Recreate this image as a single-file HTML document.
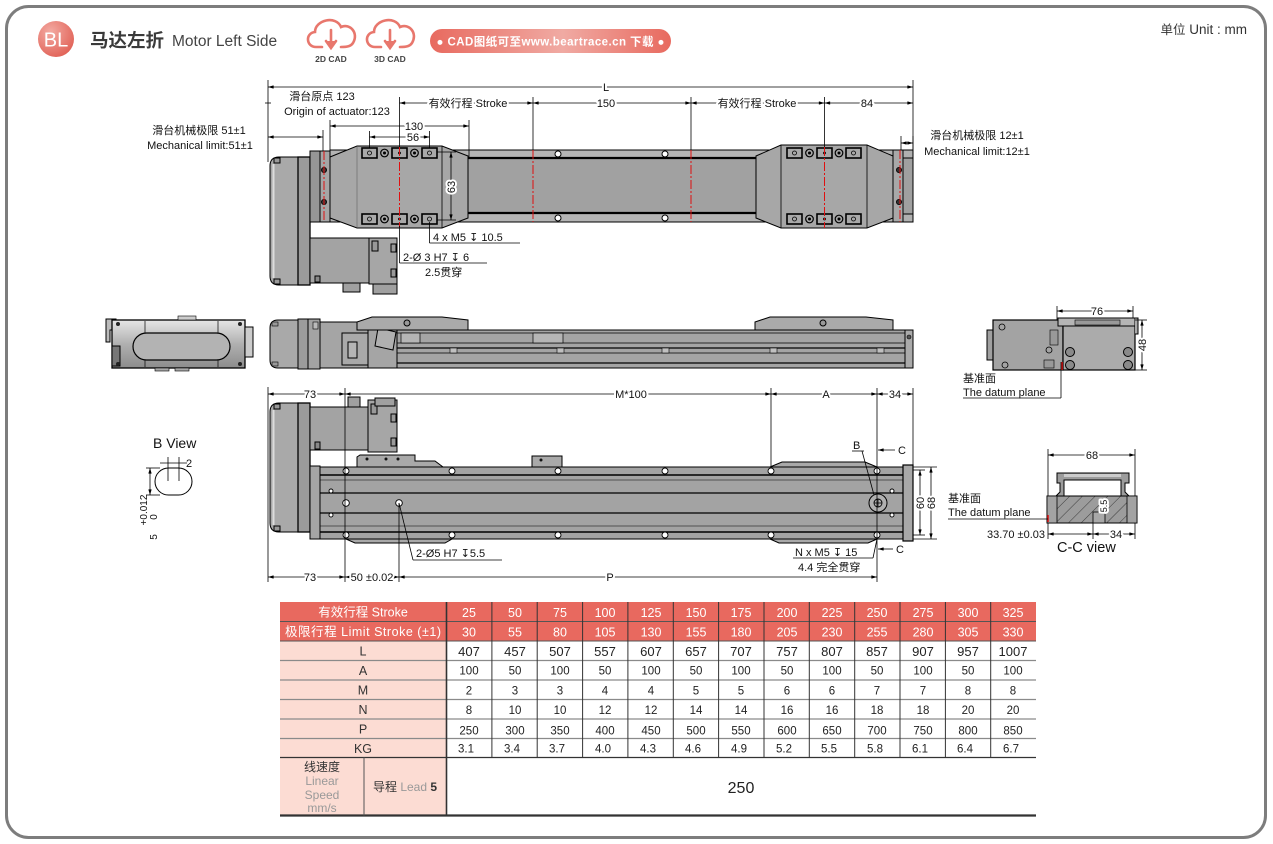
<!DOCTYPE html>
<html><head><meta charset="utf-8">
<style>
html,body{margin:0;padding:0;background:#fff;}
svg{display:block;}
text{font-family:"Liberation Sans","Noto Sans CJK SC",sans-serif;}
.t{font-size:11px;fill:#111;}
.h{stroke:#fff;stroke-width:4px;paint-order:stroke;stroke-linejoin:round;}
.d{stroke:#000;stroke-width:0.8;fill:none;}
.dm{marker-start:url(#ar);marker-end:url(#ar);}
.me{marker-end:url(#ar);}
.rd{stroke:#e01010;stroke-width:1;stroke-dasharray:9,2,2,2;fill:none;}
.hd{font-size:12.5px;fill:#fff;text-anchor:middle;}
.tv{font-size:13px;fill:#222;text-anchor:middle;}
.ts{font-size:11.5px;fill:#222;text-anchor:middle;}
.tk{font-size:11.5px;fill:#222;}
.tl{font-size:12.5px;fill:#333;text-anchor:middle;}
</style></head><body>
<svg width="1273" height="844" viewBox="0 0 1273 844" xmlns="http://www.w3.org/2000/svg">
<defs>
<marker id="ar" viewBox="0 0 10 6" refX="10" refY="3" markerWidth="6" markerHeight="3.4" orient="auto-start-reverse" markerUnits="userSpaceOnUse"><path d="M0,0 L10,3 L0,6z" fill="#000"/></marker>
<radialGradient id="gbl" cx="0.35" cy="0.3" r="0.8"><stop offset="0" stop-color="#f3aaa2"/><stop offset="1" stop-color="#e05e53"/></radialGradient>
<linearGradient id="gpill" x1="0" x2="1" y1="0" y2="0"><stop offset="0" stop-color="#e86a5f"/><stop offset="0.55" stop-color="#f0aaa3"/><stop offset="1" stop-color="#e86a5f"/></linearGradient>
<linearGradient id="gend" x1="0" x2="0" y1="0" y2="1"><stop offset="0" stop-color="#e6e6e6"/><stop offset="0.5" stop-color="#b0b0b0"/><stop offset="1" stop-color="#8c8c8c"/></linearGradient>
<pattern id="hatch" width="9" height="9" patternUnits="userSpaceOnUse" patternTransform="rotate(45)"><rect width="9" height="9" fill="#9c9c9c"/><line x1="0" y1="0" x2="0" y2="9" stroke="#222" stroke-width="0.8"/></pattern>
</defs>

<!-- outer frame -->
<rect x="6.5" y="6.5" width="1259" height="831" rx="22" fill="#fff" stroke="#7d7d7d" stroke-width="3"/>

<!-- ===== HEADER ===== -->
<circle cx="56" cy="39" r="18" fill="url(#gbl)"/>
<text x="56" y="46.5" font-size="20" fill="#fff" text-anchor="middle">BL</text>
<text x="90" y="47" font-size="18.5" font-weight="bold" fill="#3a3a3a">马达左折</text>
<text x="172" y="46" font-size="15.5" fill="#444">Motor Left Side</text>

<g fill="none" stroke="#e8776d" stroke-width="2.6" stroke-linecap="round">
 <path d="M322,47 H316 C306,47 305,33 315,32 C315,20 336,15 341,27 C350,23 359,33 353,43 C351,46 348,47 341,47"/>
 <path d="M331,30 V46"/><path d="M326,41 L331,48 L336,41" fill="#e8776d"/>
 <path d="M381,47 H375 C365,47 364,33 374,32 C374,20 395,15 400,27 C409,23 418,33 412,43 C410,46 407,47 400,47"/>
 <path d="M390,30 V46"/><path d="M385,41 L390,48 L395,41" fill="#e8776d"/>
</g>
<text x="331" y="62" font-size="8.5" font-weight="bold" fill="#444" text-anchor="middle">2D CAD</text>
<text x="390" y="62" font-size="8.5" font-weight="bold" fill="#444" text-anchor="middle">3D CAD</text>

<rect x="430" y="29" width="241" height="24" rx="12" fill="url(#gpill)"/>
<text x="550.5" y="45.5" font-size="11.5" font-weight="bold" fill="#fff" text-anchor="middle" textLength="228">● CAD图纸可至www.beartrace.cn 下载 ●</text>

<text x="1247" y="34" font-size="13.5" fill="#333" text-anchor="end"><tspan font-size="12.5">单位</tspan> Unit : mm</text>

<!-- ===== TOP VIEW ===== -->
<g stroke="#000" stroke-width="1">
 <path d="M279,157 H298 V285 H279 Q270,285 270,276 V166 Q270,157 279,157Z" fill="#a9a9a9"/>
 <path d="M273.5,164 V278" stroke="#dcdcdc" stroke-width="2"/>
 <rect x="274" y="158" width="6" height="5" fill="#999"/>
 <rect x="274" y="279" width="6" height="5" fill="#999"/>
 <rect x="298" y="157" width="12" height="128" fill="#9b9b9b" stroke-width="1.3"/>
 <rect x="310" y="238" width="59" height="45" fill="#a3a3a3"/>
 <rect x="315" y="276" width="5" height="6" fill="#888"/>
 <rect x="369" y="238" width="28" height="46" fill="#a6a6a6"/>
 <rect x="372" y="241" width="6" height="10" fill="#999"/>
 <rect x="391" y="244" width="5" height="8" fill="#999"/>
 <rect x="391" y="269" width="5" height="8" fill="#999"/>
 <rect x="343" y="283" width="17" height="9" fill="#a0a0a0"/>
 <rect x="373" y="284" width="24" height="10" fill="#a0a0a0"/>
 <rect x="310" y="151" width="10" height="71" fill="#969696"/>
 <rect x="320" y="151" width="10" height="71" fill="#a5a5a5"/>
 <rect x="330" y="150" width="565" height="72" fill="#a1a1a1"/>
 <rect x="330" y="150" width="565" height="8" fill="#b4b4b4"/>
 <rect x="330" y="213" width="565" height="9" fill="#b4b4b4"/>
 <line x1="330" y1="158" x2="895" y2="158" stroke-width="2.2"/>
 <line x1="330" y1="213" x2="895" y2="213" stroke-width="2.2"/>
 <rect x="893" y="150" width="10" height="72" fill="#a8a8a8"/>
 <rect x="903" y="150" width="10" height="72" fill="#a0a0a0"/>
 <rect x="903" y="150" width="10" height="8" fill="#b0b0b0"/>
 <rect x="903" y="214" width="10" height="8" fill="#b0b0b0"/>
</g>
<g fill="#fff" stroke="#000" stroke-width="1">
 <circle cx="558" cy="154" r="3"/><circle cx="665" cy="154" r="3"/>
 <circle cx="558" cy="218" r="3"/><circle cx="665" cy="218" r="3"/>
</g>
<g fill="#333" stroke="#000" stroke-width="0.8">
 <circle cx="324" cy="170" r="2.6"/><circle cx="324" cy="202" r="2.6"/>
 <circle cx="899" cy="170" r="2.6"/><circle cx="899" cy="202" r="2.6"/>
</g>

<polygon points="357,146 442,146 468,156 468,218 442,228 357,228 330,218 330,157" fill="#a7a7a7" stroke="#000" stroke-width="1"/>
<line x1="442" y1="146" x2="442" y2="228" stroke="#000" stroke-width="0.8"/>
<line x1="357" y1="146" x2="357" y2="228" stroke="#555" stroke-width="0.5"/>
<polygon points="781,145 867,145 893,156 893,218 867,228 781,228 756,218 756,156" fill="#a7a7a7" stroke="#000" stroke-width="1"/>
<line x1="781" y1="145" x2="781" y2="228" stroke="#000" stroke-width="0.8"/>
<line x1="867" y1="145" x2="867" y2="228" stroke="#000" stroke-width="0.8"/>

<g fill="#a9a9a9" stroke="#000" stroke-width="1.6">
 <rect x="362" y="148" width="15" height="10"/><rect x="392" y="148" width="15" height="10"/><rect x="422" y="148" width="15" height="10"/>
 <rect x="362" y="214" width="15" height="10"/><rect x="392" y="214" width="15" height="10"/><rect x="422" y="214" width="15" height="10"/>
 <rect x="787" y="148" width="15" height="10"/><rect x="817" y="148" width="15" height="10"/><rect x="846" y="148" width="15" height="10"/>
 <rect x="787" y="214" width="15" height="10"/><rect x="817" y="214" width="15" height="10"/><rect x="846" y="214" width="15" height="10"/>
</g>
<g fill="none" stroke="#000" stroke-width="0.8">
 <circle cx="369.5" cy="153" r="2"/><circle cx="429.5" cy="153" r="2"/><circle cx="369.5" cy="219" r="2"/><circle cx="429.5" cy="219" r="2"/>
 <circle cx="794.5" cy="153" r="2"/><circle cx="853.5" cy="153" r="2"/><circle cx="794.5" cy="219" r="2"/><circle cx="853.5" cy="219" r="2"/>
 <circle cx="384.5" cy="153" r="3.8" stroke-width="1.2"/><circle cx="414.5" cy="153" r="3.8" stroke-width="1.2"/>
 <circle cx="384.5" cy="219" r="3.8" stroke-width="1.2"/><circle cx="414.5" cy="219" r="3.8" stroke-width="1.2"/>
 <circle cx="809.5" cy="153" r="3.8" stroke-width="1.2"/><circle cx="839" cy="153" r="3.8" stroke-width="1.2"/>
 <circle cx="809.5" cy="219" r="3.8" stroke-width="1.2"/><circle cx="839" cy="219" r="3.8" stroke-width="1.2"/>
</g>
<g fill="#000"><circle cx="399.5" cy="153" r="1.4"/><circle cx="399.5" cy="219" r="1.4"/><circle cx="824.5" cy="153" r="1.4"/><circle cx="824.5" cy="219" r="1.4"/>
<circle cx="384.5" cy="153" r="1.5"/><circle cx="414.5" cy="153" r="1.5"/><circle cx="384.5" cy="219" r="1.5"/><circle cx="414.5" cy="219" r="1.5"/>
<circle cx="809.5" cy="153" r="1.5"/><circle cx="839" cy="153" r="1.5"/><circle cx="809.5" cy="219" r="1.5"/><circle cx="839" cy="219" r="1.5"/></g>

<line class="rd" x1="533" y1="150" x2="533" y2="222"/>
<line class="rd" x1="691" y1="150" x2="691" y2="222"/>
<line class="rd" x1="399.5" y1="147" x2="399.5" y2="228"/>
<line class="rd" x1="824.5" y1="147" x2="824.5" y2="228"/>
<line class="rd" x1="324" y1="151" x2="324" y2="222"/>
<line class="rd" x1="900" y1="150" x2="900" y2="222"/>

<line class="d" x1="268" y1="80" x2="268" y2="162"/>
<line class="d" x1="913" y1="80" x2="913" y2="150"/>
<line class="d dm" x1="268" y1="87" x2="913" y2="87"/>
<text class="t h" x="606" y="91" text-anchor="middle">L</text>

<line class="d" x1="399.5" y1="97" x2="399.5" y2="147"/>
<line class="d" x1="533" y1="97" x2="533" y2="150"/>
<line class="d" x1="691" y1="97" x2="691" y2="150"/>
<line class="d" x1="824.5" y1="97" x2="824.5" y2="147"/>
<line class="d dm" x1="399.5" y1="103" x2="533" y2="103"/>
<line class="d dm" x1="533" y1="103" x2="691" y2="103"/>
<line class="d dm" x1="691" y1="103" x2="824.5" y2="103"/>
<line class="d dm" x1="824.5" y1="103" x2="913" y2="103"/>
<text class="t h" x="468" y="107" text-anchor="middle">有效行程 Stroke</text>
<text class="t h" x="606" y="107" text-anchor="middle">150</text>
<text class="t h" x="757" y="107" text-anchor="middle">有效行程 Stroke</text>
<text class="t h" x="867" y="107" text-anchor="middle">84</text>
<line class="d" x1="265" y1="103" x2="271" y2="103"/>

<text class="t" x="322" y="100" text-anchor="middle">滑台原点 123</text>
<text class="t" x="337" y="115" text-anchor="middle">Origin of actuator:123</text>

<text class="t" x="199" y="134" text-anchor="middle">滑台机械极限 51±1</text>
<text class="t" x="200" y="149" text-anchor="middle">Mechanical limit:51±1</text>
<line class="d" x1="323" y1="130" x2="323" y2="151"/>
<line class="d dm" x1="268" y1="137" x2="323" y2="137"/>

<line class="d" x1="330" y1="120" x2="330" y2="157"/>
<line class="d" x1="469" y1="120" x2="469" y2="157"/>
<line class="d dm" x1="330" y1="126" x2="469" y2="126"/>
<text class="t h" x="414" y="130" text-anchor="middle">130</text>
<line class="d" x1="369.5" y1="131" x2="369.5" y2="148"/>
<line class="d" x1="429.5" y1="131" x2="429.5" y2="148"/>
<line class="d dm" x1="369.5" y1="137" x2="429.5" y2="137"/>
<text class="t h" x="413" y="141" text-anchor="middle">56</text>

<line class="d" x1="437" y1="152" x2="456" y2="152"/>
<line class="d" x1="437" y1="220" x2="456" y2="220"/>
<line class="d dm" x1="451" y1="152" x2="451" y2="220"/>
<text class="t h" transform="translate(455,187) rotate(-90)" text-anchor="middle">63</text>

<line class="d" x1="429.5" y1="222" x2="429.5" y2="243"/>
<line class="d" x1="429.5" y1="243" x2="520" y2="243"/>
<text class="t" x="433" y="241">4 x  M5 ↧ 10.5</text>
<line class="d" x1="399.5" y1="226" x2="399.5" y2="263"/>
<line class="d" x1="399.5" y1="263" x2="487" y2="263"/>
<text class="t" x="403" y="261">2-Ø 3 H7 ↧ 6</text>
<text class="t" x="425" y="276">2.5贯穿</text>

<line class="d" x1="901" y1="136" x2="901" y2="150"/>
<line class="d" x1="913" y1="136" x2="913" y2="150"/>
<line class="d dm" x1="901" y1="143" x2="913" y2="143"/>
<text class="t" x="977" y="139" text-anchor="middle">滑台机械极限 12±1</text>
<text class="t" x="977" y="155" text-anchor="middle">Mechanical limit:12±1</text>

<!-- ===== MIDDLE: LEFT END VIEW ===== -->
<g stroke="#000" stroke-width="1">
 <path d="M106,319 H116 V330 H110 V342 H106Z" fill="#bbb"/>
 <rect x="112" y="320" width="133" height="48" fill="url(#gend)" stroke-width="1.3"/>
 <rect x="112" y="346" width="8" height="20" fill="#777"/>
 <line x1="145" y1="321" x2="145" y2="367" stroke-width="0.7"/>
 <line x1="218" y1="321" x2="218" y2="367" stroke-width="0.7"/>
 <rect x="133" y="333" width="97" height="27" rx="13.5" fill="#b3b3b3" stroke-width="1.2"/>
 <rect x="245" y="327" width="8" height="30" fill="#ccc"/>
 <rect x="178" y="316" width="18" height="4" fill="#ccc" stroke-width="0.6"/>
 <rect x="155" y="368" width="14" height="3" fill="#aaa" stroke-width="0.6"/>
 <rect x="175" y="368" width="14" height="3" fill="#aaa" stroke-width="0.6"/>
</g>
<g fill="#222"><circle cx="118" cy="324" r="2"/><circle cx="240" cy="324" r="2"/><circle cx="118" cy="364" r="2"/><circle cx="240" cy="364" r="2"/></g>

<!-- ===== MIDDLE: SIDE VIEW ===== -->
<g stroke="#000" stroke-width="1">
 <path d="M278,320 H298 V368 H278 Q270,368 270,360 V328 Q270,320 278,320Z" fill="#a9a9a9"/>
 <rect x="272" y="322" width="6" height="4" fill="#999" stroke-width="0.6"/>
 <rect x="272" y="362" width="6" height="4" fill="#999" stroke-width="0.6"/>
 <rect x="298" y="319" width="10" height="50" fill="#9c9c9c"/>
 <rect x="308" y="319" width="12" height="50" fill="#a3a3a3"/>
 <rect x="313" y="322" width="5" height="7" fill="#bbb" stroke-width="0.6"/>
 <rect x="320" y="322" width="48" height="46" fill="#a5a5a5"/>
 <rect x="342" y="333" width="26" height="32" fill="#a9a9a9"/>
 <rect x="348" y="342" width="9" height="16" fill="#b5b5b5"/>
 <rect x="368" y="322" width="29" height="46" fill="#a5a5a5"/>
 <polygon points="378,328 396,332 393,350 375,346" fill="#b0b0b0"/>
 <rect x="397" y="330" width="508" height="38" fill="#a4a4a4"/>
 <rect x="905" y="330" width="8" height="38" fill="#aaa"/>
 <line x1="397" y1="333" x2="905" y2="333" stroke-width="0.7"/>
 <line x1="397" y1="343" x2="905" y2="343" stroke-width="0.7"/>
 <line x1="397" y1="348" x2="905" y2="348" stroke-width="1.2"/>
 <line x1="397" y1="353" x2="905" y2="353" stroke-width="0.7"/>
 <line x1="397" y1="363" x2="905" y2="363" stroke-width="1.2"/>
 <polygon points="357,322 372,317 442,317 468,320 468,330 357,330" fill="#aaa"/>
 <polygon points="755,322 770,317 866,317 893,320 893,330 755,330" fill="#aaa"/>
 <rect x="401" y="333" width="19" height="10" fill="#b5b5b5" stroke-width="0.7"/>
 <rect x="533" y="333" width="30" height="10" fill="#b5b5b5" stroke-width="0.7"/>
</g>
<g fill="#c0c0c0" stroke="#000" stroke-width="0.6">
 <rect x="450" y="348" width="7" height="5"/><rect x="557" y="348" width="7" height="5"/><rect x="662" y="348" width="7" height="5"/><rect x="770" y="348" width="7" height="5"/><rect x="877" y="348" width="7" height="5"/>
</g>
<circle cx="407" cy="323" r="3" fill="#999" stroke="#000"/>
<circle cx="823" cy="323" r="3" fill="#999" stroke="#000"/>
<circle cx="909" cy="337" r="2" fill="#555" stroke="#000" stroke-width="0.6"/>

<!-- ===== MIDDLE: RIGHT END VIEW ===== -->
<g stroke="#000" stroke-width="1">
 <rect x="987" y="330" width="8" height="30" fill="#a0a0a0"/>
 <rect x="993" y="320" width="70" height="50" fill="#a3a3a3" stroke-width="1.2"/>
 <rect x="1063" y="325" width="72" height="45" fill="#ababab" stroke-width="1.2"/>
 <rect x="1058" y="318" width="77" height="8" fill="#b5b5b5"/>
 <rect x="1075" y="320" width="45" height="5" fill="#999" stroke-width="0.6"/>
 <path d="M1135,318 L1138,318 L1138,334 L1135,334" fill="#aaa"/>
 <rect x="1050" y="330" width="8" height="15" fill="#999" stroke-width="0.6"/>
 <rect x="1044" y="360" width="10" height="8" fill="#999" stroke-width="0.6"/>
</g>
<g fill="#8a8a8a" stroke="#000" stroke-width="1">
 <circle cx="1070" cy="352" r="4.5"/><circle cx="1070" cy="365" r="4.5"/><circle cx="1128" cy="352" r="4.5"/><circle cx="1128" cy="365" r="4.5"/>
</g>
<g fill="none" stroke="#000" stroke-width="0.8">
 <circle cx="1002" cy="327" r="3"/><circle cx="1049" cy="350" r="3"/><circle cx="1005" cy="365" r="3"/>
</g>
<line x1="1062" y1="362" x2="1062" y2="370" stroke="#e01010" stroke-width="1.5"/>
<line class="d" x1="1057" y1="306" x2="1057" y2="320"/>
<line class="d" x1="1133" y1="306" x2="1133" y2="318"/>
<line class="d dm" x1="1057" y1="311" x2="1133" y2="311"/>
<text class="t h" x="1097" y="315" text-anchor="middle">76</text>
<line class="d" x1="1135" y1="320" x2="1147" y2="320"/>
<line class="d" x1="1135" y1="370" x2="1147" y2="370"/>
<line class="d dm" x1="1142" y1="320" x2="1142" y2="370"/>
<text class="t h" transform="translate(1146,345) rotate(-90)" text-anchor="middle">48</text>
<line class="d" x1="1061" y1="362" x2="1061" y2="398"/>
<line class="d" x1="963" y1="398" x2="1061" y2="398"/>
<text class="t" x="963" y="382">基准面</text>
<text class="t" x="963" y="396">The datum plane</text>

<!-- ===== BOTTOM VIEW ===== -->
<g stroke="#000" stroke-width="1">
 <path d="M279,403 H298 V532 H279 Q270,532 270,523 V412 Q270,403 279,403Z" fill="#a9a9a9"/>
 <path d="M273.5,410 V525" stroke="#dcdcdc" stroke-width="2"/>
 <rect x="274" y="404" width="6" height="5" fill="#999"/>
 <rect x="274" y="526" width="6" height="5" fill="#999"/>
 <rect x="298" y="403" width="12" height="129" fill="#9b9b9b" stroke-width="1.3"/>
 <rect x="310" y="407" width="60" height="43" fill="#a3a3a3"/>
 <rect x="315" y="442" width="5" height="7" fill="#888"/>
 <rect x="368" y="400" width="29" height="52" fill="#a6a6a6"/>
 <rect x="371" y="404" width="6" height="10" fill="#999"/>
 <rect x="391" y="414" width="5" height="8" fill="#999"/>
 <rect x="391" y="438" width="5" height="8" fill="#999"/>
 <rect x="348" y="397" width="12" height="10" fill="#a0a0a0"/>
 <rect x="375" y="398" width="20" height="8" fill="#a0a0a0"/>
 <rect x="310" y="466" width="10" height="73" fill="#a5a5a5"/>
 <rect x="320" y="467" width="583" height="72" fill="#a3a3a3"/>
 <rect x="903" y="465" width="10" height="76" fill="#a8a8a8" stroke-width="1.2"/>
 <line x1="320" y1="475" x2="903" y2="475" stroke-width="1.5"/>
 <line x1="320" y1="480" x2="903" y2="480" stroke-width="0.6"/>
 <line x1="320" y1="493" x2="903" y2="493" stroke-width="1.2"/>
 <line x1="320" y1="513" x2="903" y2="513" stroke-width="1.2"/>
 <line x1="320" y1="526" x2="903" y2="526" stroke-width="0.6"/>
 <line x1="320" y1="532" x2="903" y2="532" stroke-width="1.5"/>
 <polygon points="357,467 357,457 360,455 415,455 415,461 435,461 443,467" fill="#a9a9a9"/>
 <polygon points="532,467 532,456 562,456 562,467" fill="#a9a9a9"/>
 <polygon points="770,467 782,462 865,462 877,467" fill="#a9a9a9"/>
 <polygon points="346,539 355,543 445,543 452,539" fill="#a9a9a9"/>
 <polygon points="770,539 779,543 868,543 877,539" fill="#a9a9a9"/>
</g>
<g fill="#111">
 <circle cx="367" cy="459" r="1.5"/><circle cx="386" cy="459" r="1.5"/><circle cx="398" cy="459" r="1.5"/><circle cx="541" cy="460" r="1.5"/>
</g>
<g fill="#fff" stroke="#000" stroke-width="0.9">
 <circle cx="346" cy="471" r="3"/><circle cx="452" cy="471" r="3"/><circle cx="558" cy="471" r="3"/><circle cx="665" cy="471" r="3"/><circle cx="771" cy="471" r="3"/><circle cx="877" cy="471" r="3"/>
 <circle cx="346" cy="535" r="3"/><circle cx="452" cy="535" r="3"/><circle cx="558" cy="535" r="3"/><circle cx="665" cy="535" r="3"/><circle cx="771" cy="535" r="3"/><circle cx="877" cy="535" r="3"/>
 <circle cx="346" cy="503" r="3.3"/><circle cx="399" cy="503" r="3.3"/>
 <circle cx="331" cy="491" r="2"/><circle cx="331" cy="515" r="2"/><circle cx="892" cy="491" r="2"/><circle cx="892" cy="515" r="2"/>
</g>
<circle cx="878" cy="503" r="9" fill="#b0b0b0" stroke="#000" stroke-width="1"/>
<circle cx="878" cy="503" r="4" fill="none" stroke="#000" stroke-width="0.9"/>
<line x1="874" y1="503" x2="882" y2="503" stroke="#000" stroke-width="0.8"/>
<line x1="878" y1="499" x2="878" y2="507" stroke="#000" stroke-width="0.8"/>

<line class="d" x1="268" y1="387" x2="268" y2="582"/>
<line class="d" x1="345" y1="388" x2="345" y2="582"/>
<line class="d" x1="771" y1="388" x2="771" y2="467"/>
<line class="d" x1="877" y1="388" x2="877" y2="582"/>
<line class="d" x1="913" y1="388" x2="913" y2="465"/>
<line class="d dm" x1="268" y1="394" x2="345" y2="394"/>
<line class="d dm" x1="345" y1="394" x2="771" y2="394"/>
<line class="d dm" x1="771" y1="394" x2="877" y2="394"/>
<line class="d dm" x1="877" y1="394" x2="913" y2="394"/>
<text class="t h" x="310" y="398" text-anchor="middle">73</text>
<text class="t h" x="631" y="398" text-anchor="middle">M*100</text>
<text class="t h" x="826" y="398" text-anchor="middle">A</text>
<text class="t h" x="895" y="398" text-anchor="middle">34</text>

<text class="t" x="853" y="449">B</text>
<line class="d" x1="852" y1="451" x2="864" y2="451"/>
<line class="d" x1="862" y1="451" x2="874" y2="495"/>
<line class="d me" x1="895" y1="450" x2="878" y2="450"/>
<text class="t" x="898" y="454">C</text>
<line class="d me" x1="893" y1="549" x2="878" y2="549"/>
<text class="t" x="896" y="553">C</text>

<line class="d" x1="913" y1="470" x2="925" y2="470"/>
<line class="d" x1="913" y1="535" x2="925" y2="535"/>
<line class="d" x1="913" y1="467" x2="937" y2="467"/>
<line class="d" x1="913" y1="539" x2="937" y2="539"/>
<line class="d dm" x1="920" y1="470" x2="920" y2="535"/>
<line class="d dm" x1="931" y1="467" x2="931" y2="539"/>
<text class="t h" transform="translate(924,503) rotate(-90)" text-anchor="middle">60</text>
<text class="t h" transform="translate(935,503) rotate(-90)" text-anchor="middle">68</text>

<line class="d" x1="873" y1="558" x2="877" y2="539"/>
<line class="d" x1="793" y1="558" x2="873" y2="558"/>
<text class="t" x="795" y="556">N x M5 ↧ 15</text>
<text class="t" x="798" y="571">4.4 完全贯穿</text>

<line class="d" x1="399" y1="503" x2="413" y2="560"/>
<line class="d" x1="413" y1="560" x2="502" y2="560"/>
<text class="t" x="416" y="557">2-Ø5 H7 ↧5.5</text>

<line class="d" x1="399" y1="503" x2="399" y2="582"/>
<line class="d dm" x1="268" y1="577" x2="345" y2="577"/>
<line class="d dm" x1="345" y1="577" x2="399" y2="577"/>
<line class="d dm" x1="399" y1="577" x2="877" y2="577"/>
<text class="t h" x="310" y="581" text-anchor="middle">73</text>
<text class="t h" x="372" y="581" text-anchor="middle">50 ±0.02</text>
<text class="t h" x="610" y="581" text-anchor="middle">P</text>

<!-- ===== B VIEW ===== -->
<text x="153" y="448" font-size="14" fill="#111">B View</text>
<rect x="155" y="468" width="37" height="27" rx="13.5" fill="none" stroke="#000" stroke-width="1"/>
<line class="d" x1="168" y1="457" x2="168" y2="481"/>
<line class="d" x1="179" y1="457" x2="179" y2="481"/>
<line class="d" x1="160" y1="463" x2="187" y2="463"/>
<text class="t" x="186" y="467">2</text>
<line class="d" x1="146" y1="468" x2="160" y2="468"/>
<line class="d" x1="146" y1="495" x2="160" y2="495"/>
<line class="d dm" x1="150" y1="468" x2="150" y2="495"/>
<text transform="translate(147,510) rotate(-90)" font-size="10" fill="#111" text-anchor="middle">+0.012</text>
<text transform="translate(157,517) rotate(-90)" font-size="10" fill="#111" text-anchor="middle">0</text>
<text transform="translate(157,537) rotate(-90)" font-size="10" fill="#111" text-anchor="middle">5</text>

<!-- ===== C-C VIEW ===== -->
<line class="d" x1="1048" y1="449" x2="1048" y2="496"/>
<line class="d" x1="1135" y1="449" x2="1135" y2="496"/>
<line class="d dm" x1="1048" y1="455" x2="1135" y2="455"/>
<text class="t h" x="1092" y="459" text-anchor="middle">68</text>
<path d="M1057,473 H1129 V483 H1125 V492 L1129,496 H1121 V480 H1064 V496 H1056 L1060,492 V483 H1057Z" fill="#9c9c9c" stroke="#000" stroke-width="1"/>
<rect x="1064" y="474" width="57" height="3" fill="#ccc" stroke="none"/>
<rect x="1047" y="496" width="90" height="27" fill="url(#hatch)" stroke="#000" stroke-width="1"/>
<rect x="1047" y="496" width="10" height="27" fill="#a3a3a3" stroke="#000" stroke-width="0.8"/>
<rect x="1127" y="496" width="10" height="27" fill="#a3a3a3" stroke="#000" stroke-width="0.8"/>
<rect x="1093" y="512" width="12" height="11" fill="#a8a8a8" stroke="#000" stroke-width="0.8"/>
<line x1="1048" y1="515" x2="1048" y2="522" stroke="#e01010" stroke-width="1.5"/>
<text transform="translate(1107,506) rotate(-90)" font-size="9" fill="#111" text-anchor="middle" class="h">5.5</text>
<line class="d" x1="948" y1="519" x2="1048" y2="519"/>
<text class="t" x="948" y="502">基准面</text>
<text class="t" x="948" y="516">The datum plane</text>
<line class="d" x1="1048" y1="523" x2="1048" y2="539"/>
<line class="d" x1="1135" y1="523" x2="1135" y2="539"/>
<line class="d" x1="1093" y1="523" x2="1093" y2="539"/>
<line class="d dm" x1="1048" y1="534" x2="1093" y2="534"/>
<line class="d dm" x1="1093" y1="534" x2="1135" y2="534"/>
<text class="t" x="1045" y="538" text-anchor="end">33.70 ±0.03</text>
<text class="t h" x="1116" y="538" text-anchor="middle">34</text>
<text x="1057" y="552" font-size="14.5" fill="#111">C-C view</text>

<!-- ===== TABLE ===== -->
<rect x="280" y="602" width="756" height="39" fill="#e8695f"/>
<rect x="280" y="641" width="166.5" height="174.5" fill="#fcdcd3"/>
<g stroke="#555" stroke-width="1">
 <line x1="280" y1="621.5" x2="1036" y2="621.5"/>
 <line x1="280" y1="641" x2="1036" y2="641"/>
</g>
<g stroke="#8a8a8a" stroke-width="1.3">
 <line x1="280" y1="660.5" x2="1036" y2="660.5"/>
 <line x1="280" y1="680" x2="1036" y2="680"/>
 <line x1="280" y1="699.5" x2="1036" y2="699.5"/>
 <line x1="280" y1="719" x2="1036" y2="719"/>
 <line x1="280" y1="738.5" x2="1036" y2="738.5"/>
</g>
<line x1="280" y1="757.5" x2="1036" y2="757.5" stroke="#333" stroke-width="1.3"/>
<line x1="280" y1="815.5" x2="1036" y2="815.5" stroke="#333" stroke-width="2.2"/>
<line x1="364" y1="757.5" x2="364" y2="815.5" stroke="#555" stroke-width="1"/>
<g stroke="#333" stroke-width="1">
 <line x1="446.5" y1="602" x2="446.5" y2="815.5" stroke-width="1.6"/>
 <line x1="491.9" y1="602" x2="491.9" y2="757.5"/>
 <line x1="537.2" y1="602" x2="537.2" y2="757.5"/>
 <line x1="582.6" y1="602" x2="582.6" y2="757.5"/>
 <line x1="627.9" y1="602" x2="627.9" y2="757.5"/>
 <line x1="673.3" y1="602" x2="673.3" y2="757.5"/>
 <line x1="718.6" y1="602" x2="718.6" y2="757.5"/>
 <line x1="764.0" y1="602" x2="764.0" y2="757.5"/>
 <line x1="809.3" y1="602" x2="809.3" y2="757.5"/>
 <line x1="854.7" y1="602" x2="854.7" y2="757.5"/>
 <line x1="900.0" y1="602" x2="900.0" y2="757.5"/>
 <line x1="945.4" y1="602" x2="945.4" y2="757.5"/>
 <line x1="990.7" y1="602" x2="990.7" y2="757.5"/>
</g>

<text class="hd" x="363" y="616.5">有效行程  Stroke</text>
<text class="hd" x="363" y="636" textLength="156">极限行程  Limit Stroke (±1)</text>

<g class="hd" font-size="13">
<text class="hd" x="469" y="617">25</text><text class="hd" x="515" y="617">50</text><text class="hd" x="560" y="617">75</text><text class="hd" x="605" y="617">100</text><text class="hd" x="651" y="617">125</text><text class="hd" x="696" y="617">150</text><text class="hd" x="741" y="617">175</text><text class="hd" x="787" y="617">200</text><text class="hd" x="832" y="617">225</text><text class="hd" x="877" y="617">250</text><text class="hd" x="923" y="617">275</text><text class="hd" x="968" y="617">300</text><text class="hd" x="1013" y="617">325</text>
<text class="hd" x="469" y="636.5">30</text><text class="hd" x="515" y="636.5">55</text><text class="hd" x="560" y="636.5">80</text><text class="hd" x="605" y="636.5">105</text><text class="hd" x="651" y="636.5">130</text><text class="hd" x="696" y="636.5">155</text><text class="hd" x="741" y="636.5">180</text><text class="hd" x="787" y="636.5">205</text><text class="hd" x="832" y="636.5">230</text><text class="hd" x="877" y="636.5">255</text><text class="hd" x="923" y="636.5">280</text><text class="hd" x="968" y="636.5">305</text><text class="hd" x="1013" y="636.5">330</text>
</g>

<text class="tl" x="363" y="655.5">L</text>
<text class="tl" x="363" y="675">A</text>
<text class="tl" x="363" y="694.5">M</text>
<text class="tl" x="363" y="714">N</text>
<text class="tl" x="363" y="733.5">P</text>
<text class="tl" x="363" y="753">KG</text>

<text class="tv" x="469" y="656">407</text><text class="tv" x="515" y="656">457</text><text class="tv" x="560" y="656">507</text><text class="tv" x="605" y="656">557</text><text class="tv" x="651" y="656">607</text><text class="tv" x="696" y="656">657</text><text class="tv" x="741" y="656">707</text><text class="tv" x="787" y="656">757</text><text class="tv" x="832" y="656">807</text><text class="tv" x="877" y="656">857</text><text class="tv" x="923" y="656">907</text><text class="tv" x="968" y="656">957</text><text class="tv" x="1013" y="656">1007</text>

<text class="ts" x="469" y="674.5">100</text><text class="ts" x="515" y="674.5">50</text><text class="ts" x="560" y="674.5">100</text><text class="ts" x="605" y="674.5">50</text><text class="ts" x="651" y="674.5">100</text><text class="ts" x="696" y="674.5">50</text><text class="ts" x="741" y="674.5">100</text><text class="ts" x="787" y="674.5">50</text><text class="ts" x="832" y="674.5">100</text><text class="ts" x="877" y="674.5">50</text><text class="ts" x="923" y="674.5">100</text><text class="ts" x="968" y="674.5">50</text><text class="ts" x="1013" y="674.5">100</text>

<text class="ts" x="469" y="694.5">2</text><text class="ts" x="515" y="694.5">3</text><text class="ts" x="560" y="694.5">3</text><text class="ts" x="605" y="694.5">4</text><text class="ts" x="651" y="694.5">4</text><text class="ts" x="696" y="694.5">5</text><text class="ts" x="741" y="694.5">5</text><text class="ts" x="787" y="694.5">6</text><text class="ts" x="832" y="694.5">6</text><text class="ts" x="877" y="694.5">7</text><text class="ts" x="923" y="694.5">7</text><text class="ts" x="968" y="694.5">8</text><text class="ts" x="1013" y="694.5">8</text>

<text class="ts" x="469" y="714">8</text><text class="ts" x="515" y="714">10</text><text class="ts" x="560" y="714">10</text><text class="ts" x="605" y="714">12</text><text class="ts" x="651" y="714">12</text><text class="ts" x="696" y="714">14</text><text class="ts" x="741" y="714">14</text><text class="ts" x="787" y="714">16</text><text class="ts" x="832" y="714">16</text><text class="ts" x="877" y="714">18</text><text class="ts" x="923" y="714">18</text><text class="ts" x="968" y="714">20</text><text class="ts" x="1013" y="714">20</text>

<text class="ts" x="469" y="734.5">250</text><text class="ts" x="515" y="734.5">300</text><text class="ts" x="560" y="734.5">350</text><text class="ts" x="605" y="734.5">400</text><text class="ts" x="651" y="734.5">450</text><text class="ts" x="696" y="734.5">500</text><text class="ts" x="741" y="734.5">550</text><text class="ts" x="787" y="734.5">600</text><text class="ts" x="832" y="734.5">650</text><text class="ts" x="877" y="734.5">700</text><text class="ts" x="923" y="734.5">750</text><text class="ts" x="968" y="734.5">800</text><text class="ts" x="1013" y="734.5">850</text>

<text class="tk" x="458" y="752.5">3.1</text><text class="tk" x="504" y="752.5">3.4</text><text class="tk" x="549" y="752.5">3.7</text><text class="tk" x="595" y="752.5">4.0</text><text class="tk" x="640" y="752.5">4.3</text><text class="tk" x="685" y="752.5">4.6</text><text class="tk" x="731" y="752.5">4.9</text><text class="tk" x="776" y="752.5">5.2</text><text class="tk" x="821" y="752.5">5.5</text><text class="tk" x="867" y="752.5">5.8</text><text class="tk" x="912" y="752.5">6.1</text><text class="tk" x="957" y="752.5">6.4</text><text class="tk" x="1003" y="752.5">6.7</text>

<text x="322" y="771" font-size="12" fill="#333" text-anchor="middle">线速度</text>
<text x="322" y="785" font-size="12" fill="#999" text-anchor="middle">Linear</text>
<text x="322" y="799" font-size="12" fill="#999" text-anchor="middle">Speed</text>
<text x="322" y="812" font-size="12" fill="#999" text-anchor="middle">mm/s</text>
<text x="405" y="791" font-size="12" text-anchor="middle"><tspan fill="#333">导程</tspan><tspan fill="#999"> Lead</tspan><tspan fill="#333" font-weight="bold"> 5</tspan></text>
<text x="741" y="793" font-size="16" fill="#222" text-anchor="middle">250</text>
</svg>
</body></html>
